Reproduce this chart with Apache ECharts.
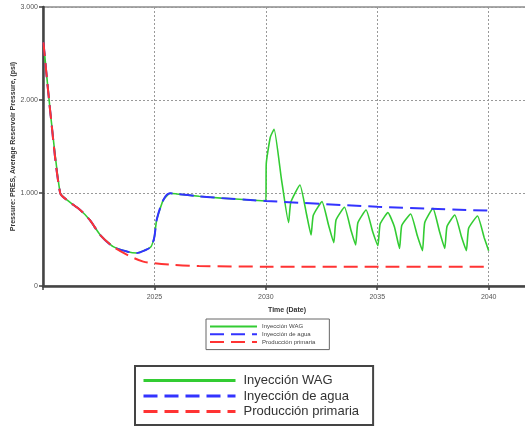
<!DOCTYPE html>
<html>
<head>
<meta charset="utf-8">
<script src="https://cdn.jsdelivr.net/npm/echarts@6/dist/echarts.min.js"></script>
<style>
  html, body { margin: 0; padding: 0; background: #fff; }
  #chart { width: 525px; height: 427px; }
</style>
</head>
<body>
<div id="chart"></div>
<script>
// series names (legend order)
const seriesNames = ['Inyección WAG', 'Inyección de agua', 'Producción primaria'];

// decline shared by all cases before injection starts
const commonYears = [2020.02, 2020.35, 2020.77, 2021.07, 2021.67, 2022.1, 2022.57, 2023.15];
const commonPres  = [2620, 1820, 1000, 925, 817, 710, 548, 423];

// primary production
const primYears = [2023.8, 2024.5, 2025, 2025.9, 2027, 2030, 2035, 2040];
const primPres  = [333, 262, 244, 226, 215, 208, 208, 208];

// water injection
const waterYears = [2023.8, 2024.2, 2024.6, 2024.85, 2025, 2025.1, 2025.4, 2025.7, 2026, 2027, 2028, 2029.3, 2030, 2035, 2040];
const waterPres  = [369, 355, 387, 423, 530, 710, 925, 997, 990, 965, 945, 925, 914, 853, 810];

// WAG cycles after 2030
const wagYears = [2030.02, 2030.2, 2030.37, 2030.7, 2031.02, 2031.12, 2031.53, 2031.82, 2032.03, 2032.13, 2032.52, 2032.82, 2033.05,
  2033.15, 2033.53, 2033.82, 2034.03, 2034.13, 2034.5, 2034.8, 2035.03, 2035.13, 2035.48, 2035.77, 2036.0, 2036.1, 2036.5, 2036.8,
  2037.03, 2037.13, 2037.5, 2037.8, 2038.03, 2038.13, 2038.48, 2038.78, 2039.0, 2039.1, 2039.5, 2039.8, 2040.0];
const wagPres = [1320, 1600, 1685, 1150, 681, 900, 1086, 780, 548, 760, 907, 650, 466,
  710, 846, 600, 441, 680, 817, 580, 434, 667, 789, 638, 405, 650, 774, 540,
  380, 680, 835, 580, 405, 640, 763, 530, 380, 620, 753, 520, 380];

const yTicks = [0, 1000, 2000, 3000];
const xTickYears = [2025, 2030, 2035, 2040];

function pairs(xs, ys) {
  return xs.map((x, i) => [x, ys[i]]);
}

const commonPts = pairs(commonYears, commonPres);
const primData = commonPts.concat(pairs(primYears, primPres));
const waterData = commonPts.concat(pairs(waterYears, waterPres));
// WAG follows water injection until 2030
const wagData = waterData.filter(p => p[0] <= 2030).concat(pairs(wagYears, wagPres));

const chart = echarts.init(document.getElementById('chart'));

const gridDots = { color: '#999', type: [2, 2], width: 1 };

const option = {
  animation: false,
  grid: {
    left: 43, top: 7, right: -6, bottom: 141,
    outerBoundsMode: 'none',
    show: true, borderColor: '#a8a8a8', borderWidth: 2
  },
  legend: [
    {
      left: 206, top: 319,
      orient: 'vertical',
      data: seriesNames,
      itemWidth: 47, itemHeight: 9, itemGap: 0.5,
      padding: [4, 14, 4, 3],
      borderColor: '#666', borderWidth: 1,
      itemStyle: { opacity: 0 },
      textStyle: { fontSize: 6, color: '#444', fontFamily: 'Liberation Sans' },
      selectedMode: false
    },
    {
      left: 135, top: 366,
      orient: 'vertical',
      data: seriesNames,
      itemWidth: 92, itemHeight: 15, itemGap: 2.5,
      padding: [8, 14, 7, 7],
      borderColor: '#444', borderWidth: 2,
      itemStyle: { opacity: 0 },
      lineStyle: { width: 3 },
      textStyle: { fontSize: 13, color: '#333', fontFamily: 'Liberation Sans', padding: [0, 0, 0, 3] },
      selectedMode: false
    }
  ],
  xAxis: {
    type: 'value',
    min: 2020, max: 2041.9, interval: 5,
    name: 'Time (Date)', nameLocation: 'middle', nameGap: 21,
    nameTextStyle: { fontSize: 7, fontWeight: 'bold', color: '#333', fontFamily: 'Liberation Sans' },
    axisLine: { lineStyle: { color: '#444', width: 2.5 } },
    axisTick: { length: 4, lineStyle: { color: '#444', width: 1.5 } },
    axisLabel: {
      fontSize: 7, color: '#555', margin: 8, fontFamily: 'Liberation Sans',
      formatter: v => (xTickYears.indexOf(v) >= 0 ? String(v) : '')
    },
    splitLine: { show: true, lineStyle: gridDots }
  },
  yAxis: {
    type: 'value',
    min: 0, max: 3000, interval: 1000,
    name: 'Pressure: PRES, Average Reservoir Pressure, (psi)',
    nameLocation: 'middle', nameGap: 26, nameRotate: 90, nameMoveOverlap: false,
    nameTextStyle: { fontSize: 7, fontWeight: 'bold', color: '#333', fontFamily: 'Liberation Sans' },
    axisLine: { show: true, lineStyle: { color: '#444', width: 2.5 } },
    axisTick: { show: true, length: 4, lineStyle: { color: '#444', width: 1.5 } },
    axisLabel: {
      fontSize: 7, color: '#555', margin: 5, fontFamily: 'Liberation Sans',
      formatter: v => (yTicks.indexOf(v) >= 0 ? (v === 0 ? '0' : (v / 1000) + '.000') : '')
    },
    splitLine: { show: true, lineStyle: gridDots }
  },
  series: [
    {
      name: seriesNames[0], type: 'line', data: wagData,
      symbol: 'none', smooth: 0.15,
      lineStyle: { color: '#33cc33', width: 1.6 },
      itemStyle: { color: '#33cc33' }
    },
    {
      name: seriesNames[1], type: 'line', data: waterData,
      symbol: 'none', smooth: 0.3,
      lineStyle: { color: '#3333ff', width: 2, type: [14, 7] },
      itemStyle: { color: '#3333ff' }
    },
    {
      name: seriesNames[2], type: 'line', data: primData,
      symbol: 'none', smooth: 0.3,
      lineStyle: { color: '#ff3333', width: 2, type: [14, 7] },
      itemStyle: { color: '#ff3333' }
    }
  ]
};

chart.setOption(option);
</script>
</body>
</html>
